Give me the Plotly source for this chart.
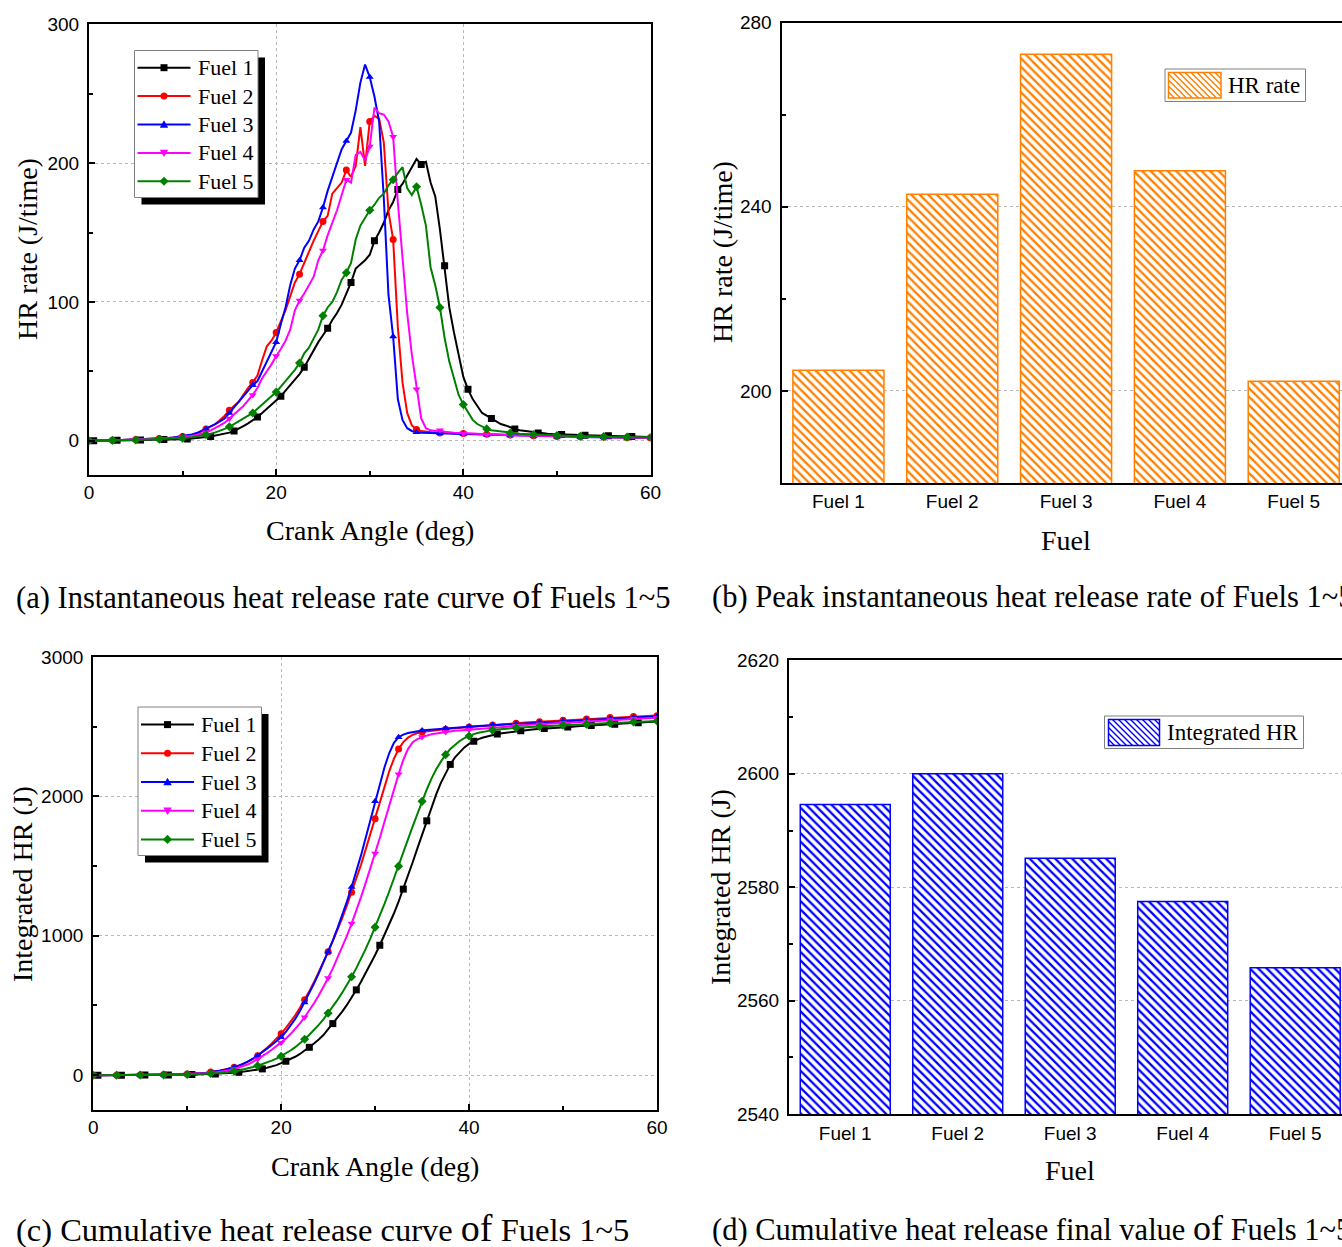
import plotly.graph_objects as go

# ---------------------------------------------------------------- data
CRANK_ANGLE = [
    0, 0.5, 1, 1.5, 2, 2.5, 3, 3.5, 4, 4.5,
    5, 5.5, 6, 6.5, 7, 7.5, 8, 8.5, 9, 9.5,
    10, 10.5, 11, 11.5, 12, 12.5, 13, 13.5, 14, 14.5,
    15, 15.5, 16, 16.5, 17, 17.5, 18, 18.5, 19, 19.5,
    20, 20.5, 21, 21.5, 22, 22.5, 23, 23.5, 24, 24.5,
    25, 25.5, 26, 26.5, 27, 27.5, 28, 28.5, 29, 29.5,
    30, 30.5, 31, 31.5, 32, 32.5, 33, 33.5, 34, 34.5,
    35, 35.5, 36, 36.5, 37, 37.5, 38, 38.5, 39, 39.5,
    40, 40.5, 41, 41.5, 42, 42.5, 43, 43.5, 44, 44.5,
    45, 45.5, 46, 46.5, 47, 47.5, 48, 48.5, 49, 49.5,
    50, 50.5, 51, 51.5, 52, 52.5, 53, 53.5, 54, 54.5,
    55, 55.5, 56, 56.5, 57, 57.5, 58, 58.5, 59, 59.5,
    60,
]

# instantaneous heat release rate (J/time)
HR_FUEL1 = [
    0, 0, 0, 0, 0.2, 0.2, 0.3, 0.3, 0.3, 0.4,
    0.4, 0.5, 0.5, 0.6, 0.6, 0.7, 0.8, 0.8, 0.9, 1.0,
    1.1, 1.3, 1.5, 1.8, 2.2, 2.6, 3.1, 3.7, 4.3, 5.0,
    5.8, 7.0, 8.5, 10.5, 12.5, 14.5, 17, 20, 23, 26,
    29, 32, 36, 40, 44, 48, 53, 59, 66, 71,
    76, 81, 87, 92, 98, 106, 114, 124, 127, 130,
    134, 144, 150, 157, 166, 172, 181, 185, 191, 197,
    203, 199, 201, 186, 176, 152, 126, 96, 78, 62,
    46, 37, 30, 25, 20, 18, 16, 14, 12, 11,
    9.5, 8.5, 7.5, 7, 6.5, 6, 5.5, 5.2, 5.0, 4.8,
    4.6, 4.5, 4.4, 4.3, 4.2, 4.1, 4.0, 3.9, 3.8, 3.7,
    3.6, 3.5, 3.4, 3.3, 3.2, 3.1, 3.0, 2.9, 2.8, 2.7,
    2.6,
]
HR_FUEL2 = [
    0, 0, 0, 0, 0.2, 0.3, 0.4, 0.5, 0.6, 0.7,
    0.8, 0.9, 1.0, 1.1, 1.3, 1.5, 1.7, 2.0, 2.3, 2.7,
    3.1, 3.6, 4.3, 5.2, 6.5, 8.5, 10, 12, 15, 18,
    22, 25, 28, 33, 38, 42, 47, 58, 68, 72,
    78, 86, 94, 104, 114, 120, 128, 137, 144, 151,
    158, 162, 178, 182, 186, 195, 190, 198, 226, 198,
    230, 234, 232, 215, 165, 145, 82, 42, 20, 11,
    8, 7, 6.5, 6, 5.8, 5.6, 5.5, 5.4, 5.3, 5.2,
    5.1, 5.0, 4.9, 4.8, 4.7, 4.6, 4.5, 4.4, 4.3, 4.2,
    4.1, 4.0, 3.9, 3.8, 3.7, 3.6, 3.5, 3.4, 3.3, 3.2,
    3.1, 3.0, 3.0, 2.9, 2.9, 2.8, 2.8, 2.7, 2.7, 2.6,
    2.6, 2.5, 2.5, 2.4, 2.4, 2.3, 2.3, 2.2, 2.2, 2.1,
    2.1,
]
HR_FUEL3 = [
    0, 0, 0, 0, 0.2, 0.3, 0.4, 0.5, 0.6, 0.7,
    0.8, 0.9, 1.0, 1.1, 1.3, 1.5, 1.7, 2.0, 2.4, 2.8,
    3.2, 3.8, 4.5, 5.5, 7, 8.5, 10, 12, 14, 16,
    20, 24, 28, 32, 36, 40, 43, 50, 57, 64,
    71, 84, 96, 112, 124, 130, 139, 144, 152, 158,
    168, 180, 190, 200, 210, 216, 222, 238, 258, 271,
    262, 248, 230, 175, 105, 75, 30, 15, 9, 7,
    6, 5.8, 5.6, 5.5, 5.4, 5.3, 5.2, 5.1, 5.0, 4.9,
    4.8, 4.7, 4.6, 4.5, 4.4, 4.3, 4.2, 4.1, 4.0, 3.9,
    3.8, 3.7, 3.6, 3.5, 3.4, 3.3, 3.2, 3.1, 3.0, 3.0,
    2.9, 2.9, 2.8, 2.8, 2.7, 2.7, 2.6, 2.6, 2.5, 2.5,
    2.4, 2.4, 2.3, 2.3, 2.3, 2.2, 2.2, 2.2, 2.1, 2.1,
    2.1,
]
HR_FUEL4 = [
    0, 0, 0, 0, 0.1, 0.2, 0.3, 0.4, 0.5, 0.6,
    0.7, 0.8, 0.9, 1.0, 1.1, 1.3, 1.5, 1.7, 2.0, 2.3,
    2.6, 3.0, 3.5, 4.2, 5.0, 6.0, 7.5, 9, 11, 13,
    16, 19, 22, 25, 29, 33, 38, 45, 50, 55,
    61, 66, 72, 80, 94, 101, 106, 112, 118, 130,
    137, 148, 157, 166, 177, 188, 186, 206, 208, 202,
    212, 240, 236, 235, 230, 219, 172, 135, 92, 62,
    37, 16, 9, 7.5, 7, 7.5, 6.5, 6, 5.8, 5.6,
    5.4, 5.2, 5.0, 4.8, 4.6, 4.4, 4.3, 4.2, 4.1, 4.0,
    3.9, 3.8, 3.7, 3.6, 3.5, 3.4, 3.3, 3.2, 3.1, 3.0,
    3.0, 2.9, 2.9, 2.8, 2.8, 2.7, 2.7, 2.6, 2.6, 2.5,
    2.5, 2.4, 2.4, 2.3, 2.3, 2.2, 2.2, 2.1, 2.1, 2.0,
    2.0,
]
HR_FUEL5 = [
    0, 0, 0, 0, 0.1, 0.2, 0.2, 0.3, 0.4, 0.5,
    0.5, 0.6, 0.7, 0.8, 0.9, 1.0, 1.1, 1.2, 1.4, 1.6,
    1.8, 2.1, 2.5, 3.0, 3.6, 4.3, 5.0, 6.0, 7.0, 8.5,
    10, 12, 14, 16, 18, 20, 23, 26, 29, 32,
    35, 39, 43, 47, 51, 56, 63, 67, 74, 80,
    90, 96, 100, 107, 116, 121, 128, 145, 155, 161,
    166, 170, 175, 178, 184, 188, 193, 197, 182, 177,
    183, 170, 155, 125, 112, 96, 74, 57, 44, 33,
    26, 20, 15, 12, 10, 8.5, 7.5, 7, 6.5, 6,
    5.5, 5.2, 5.0, 4.8, 4.6, 4.4, 4.2, 4.0, 3.9, 3.8,
    3.7, 3.6, 3.5, 3.4, 3.3, 3.2, 3.1, 3.0, 3.0, 2.9,
    2.9, 2.8, 2.8, 2.7, 2.7, 2.6, 2.6, 2.5, 2.5, 2.4,
    2.4,
]

# cumulative (integrated) heat release (J)
CUM_FUEL1 = [
    0, 0, 0, 0, 0, 0, 0, 0, 1, 1,
    1, 1, 1, 2, 2, 2, 2, 3, 3, 3,
    4, 4, 5, 6, 7, 8, 9, 11, 13, 15,
    17, 20, 24, 28, 33, 39, 45, 53, 62, 72,
    86, 100, 115, 132, 152, 175, 200, 227, 256, 288,
    330, 370, 412, 456, 504, 556, 612, 670, 732, 796,
    862, 932, 1004, 1080, 1160, 1245, 1335, 1430, 1528, 1627,
    1727, 1825, 1922, 2015, 2098, 2170, 2230, 2280, 2320, 2352,
    2377, 2396, 2411, 2423, 2433, 2441, 2448, 2454, 2459, 2464,
    2468, 2472, 2476, 2479, 2482, 2485, 2488, 2490, 2492, 2494,
    2497, 2499, 2501, 2503, 2505, 2507, 2509, 2511, 2513, 2515,
    2517, 2519, 2521, 2523, 2525, 2527, 2529, 2531, 2533, 2535,
    2537,
]
CUM_FUEL2 = [
    0, 0, 0, 0, 0, 0, 1, 1, 1, 1,
    2, 2, 2, 3, 3, 4, 4, 5, 6, 7,
    8, 10, 12, 15, 18, 22, 27, 33, 40, 48,
    57, 68, 81, 97, 117, 140, 167, 196, 228, 262,
    298, 338, 382, 430, 484, 541, 603, 668, 737, 810,
    885, 962, 1042, 1127, 1218, 1312, 1410, 1510, 1620, 1730,
    1840, 1955, 2072, 2180, 2270, 2340, 2390, 2422, 2442, 2455,
    2462, 2467, 2471, 2475, 2479, 2483, 2487, 2490, 2493, 2496,
    2499, 2502, 2505, 2508, 2510, 2513, 2515, 2518, 2520, 2523,
    2525, 2527, 2530, 2532, 2534, 2536, 2538, 2540, 2542, 2544,
    2546, 2548, 2550, 2552, 2554, 2556, 2558, 2560, 2562, 2564,
    2566, 2567, 2569, 2570, 2572, 2573, 2575, 2576, 2578, 2579,
    2580,
]
CUM_FUEL3 = [
    0, 0, 0, 0, 0, 0, 1, 1, 1, 1,
    2, 2, 2, 3, 3, 3, 4, 4, 5, 6,
    7, 9, 11, 14, 17, 21, 26, 32, 39, 47,
    57, 69, 83, 99, 118, 140, 164, 190, 217, 244,
    272, 310, 354, 404, 460, 522, 588, 657, 730, 806,
    885, 968, 1055, 1147, 1245, 1350, 1460, 1577, 1703, 1835,
    1965, 2090, 2210, 2310, 2385, 2425, 2444, 2455, 2463, 2469,
    2474, 2477, 2480, 2482, 2484, 2487, 2490, 2493, 2496, 2499,
    2501, 2503, 2505, 2507, 2509, 2511, 2513, 2515, 2517, 2519,
    2521, 2523, 2525, 2527, 2529, 2531, 2533, 2535, 2537, 2539,
    2541, 2543, 2545, 2547, 2549, 2550, 2552, 2554, 2556, 2558,
    2560, 2561, 2563, 2564, 2566, 2567, 2569, 2570, 2572, 2573,
    2575,
]
CUM_FUEL4 = [
    0, 0, 0, 0, 0, 0, 0, 1, 1, 1,
    1, 2, 2, 2, 3, 3, 3, 4, 4, 5,
    6, 7, 9, 11, 13, 16, 20, 24, 29, 35,
    44, 54, 65, 78, 95, 114, 135, 158, 182, 207,
    232, 262, 295, 332, 372, 416, 464, 516, 572, 632,
    697, 766, 840, 918, 1000, 1088, 1180, 1278, 1380, 1484,
    1590, 1702, 1818, 1935, 2050, 2160, 2262, 2340, 2390, 2412,
    2426, 2438, 2446, 2452, 2458, 2463, 2467, 2471, 2474, 2477,
    2480, 2483, 2486, 2489, 2492, 2495, 2497, 2500, 2502, 2505,
    2507, 2509, 2512, 2514, 2516, 2518, 2520, 2522, 2524, 2526,
    2528, 2530, 2532, 2534, 2536, 2538, 2540, 2542, 2544, 2546,
    2548, 2550, 2551, 2553, 2555, 2557, 2558, 2560, 2562, 2564,
    2565,
]
CUM_FUEL5 = [
    0, 0, 0, 0, 0, 0, 0, 0, 0, 1,
    1, 1, 1, 1, 2, 2, 2, 3, 3, 4,
    5, 6, 7, 8, 10, 12, 14, 16, 19, 22,
    28, 34, 41, 49, 58, 68, 79, 91, 104, 118,
    136, 155, 177, 201, 228, 258, 290, 324, 361, 400,
    445, 492, 540, 592, 647, 706, 768, 835, 906, 982,
    1062, 1145, 1230, 1318, 1408, 1500, 1595, 1692, 1785, 1875,
    1965, 2050, 2128, 2195, 2250, 2300, 2340, 2372, 2398, 2418,
    2434, 2447, 2457, 2465, 2471, 2476, 2480, 2484, 2487, 2490,
    2493, 2495, 2497, 2499, 2501, 2503, 2505, 2507, 2508, 2510,
    2511, 2513, 2514, 2516, 2517, 2519, 2520, 2522, 2523, 2525,
    2526, 2528, 2529, 2531, 2532, 2534, 2535, 2537, 2538, 2540,
    2541,
]

FUELS = ["Fuel 1", "Fuel 2", "Fuel 3", "Fuel 4", "Fuel 5"]
PEAK_HR_RATE = [204.5, 242.7, 273.1, 247.8, 202.1]
FINAL_INTEGRATED_HR = [2594.6, 2600.0, 2585.1, 2577.5, 2565.8]

HR_RATE = [HR_FUEL1, HR_FUEL2, HR_FUEL3, HR_FUEL4, HR_FUEL5]
CUMULATIVE = [CUM_FUEL1, CUM_FUEL2, CUM_FUEL3, CUM_FUEL4, CUM_FUEL5]

# ---------------------------------------------------------------- styling
W, H = 1342, 1247
COLORS = ["#000000", "#FF0000", "#0000FF", "#FF00FF", "#008000"]
SYMBOLS = ["square", "circle", "triangle-up", "triangle-down", "diamond"]
MARK_OFFSET = [1, 0, 0, 0, 0]       # marker every 5th sample (2.5 deg)
ORANGE = "#FF8000"
BLUE = "#0000FF"
SERIF = "Liberation Serif, Times New Roman, serif"
SANS = "Liberation Sans, Arial, sans-serif"


def px_x(x):
    return x / W


def px_y(y):
    return 1 - y / H


def dom_x(left, right):
    return [px_x(left), px_x(right)]


def dom_y(top, bottom):
    return [px_y(bottom), px_y(top)]


fig = go.Figure()

# (a) heat release rate curves, (c) cumulative curves
for series, xa, ya in [(HR_RATE, "x", "y"), (CUMULATIVE, "x3", "y3")]:
    for k in range(5):
        fig.add_trace(go.Scatter(
            x=CRANK_ANGLE, y=series[k], mode="lines",
            line=dict(color=COLORS[k], width=2),
            xaxis=xa, yaxis=ya, showlegend=False, hoverinfo="skip"))
        off = MARK_OFFSET[k]
        fig.add_trace(go.Scatter(
            x=CRANK_ANGLE[off::5], y=series[k][off::5], mode="markers",
            marker=dict(symbol=SYMBOLS[k], color=COLORS[k], size=7),
            xaxis=xa, yaxis=ya, showlegend=False, hoverinfo="skip"))

# (b) peak HR rate bars
fig.add_trace(go.Bar(
    x=FUELS, y=PEAK_HR_RATE, width=0.8, xaxis="x2", yaxis="y2",
    marker=dict(color="white", line=dict(color=ORANGE, width=1.5),
                pattern=dict(shape="\\", fgcolor=ORANGE, bgcolor="white",
                             size=6, solidity=0.38)),
    showlegend=False))

# (d) final integrated HR bars
fig.add_trace(go.Bar(
    x=FUELS, y=FINAL_INTEGRATED_HR, width=0.8, xaxis="x4", yaxis="y4",
    marker=dict(color="white", line=dict(color=BLUE, width=1.5),
                pattern=dict(shape="\\", fgcolor=BLUE, bgcolor="white",
                             size=6, solidity=0.38)),
    showlegend=False))

tickfont = dict(family=SANS, size=19, color="black")
grid = dict(showgrid=True, gridcolor="#b8b8b8", gridwidth=1, griddash="3px,3px")
line = dict(showline=True, linecolor="black", linewidth=2, zeroline=False,
            automargin=False)
tk = dict(ticks="inside", ticklen=6, tickwidth=1.5, tickcolor="black", tickfont=tickfont)


def minor(d):
    return dict(ticks="inside", ticklen=4, tickwidth=1.5, tickcolor="black", dtick=d)


fig.update_layout(
    template="none",
    width=W, height=H, margin=dict(l=0, r=0, t=0, b=0, pad=0, autoexpand=False),
    paper_bgcolor="white", plot_bgcolor="white", showlegend=False,
    xaxis=dict(domain=dom_x(89, 650.5), range=[0, 60], tick0=0, dtick=20,
               minor=minor(10), mirror=True, anchor="y", ticklabelstandoff=-1,
               **tk, **grid, **line),
    yaxis=dict(domain=dom_y(24.3, 475.4), range=[-25, 300], tick0=0, dtick=100,
               minor=minor(50), mirror=True, anchor="x", ticklabelstandoff=4,
               **tk, **grid, **line),
    xaxis2=dict(domain=dom_x(781.5, 1342), range=[-0.5, 4.424], type="category",
                ticks="", tickfont=tickfont, showgrid=False, mirror=True,
                anchor="y2", ticklabelstandoff=0, **line),
    yaxis2=dict(domain=dom_y(22.5, 483), range=[180, 280], tick0=200, dtick=40,
                minor=minor(20), mirror=False, anchor="x2", ticklabelstandoff=4,
                **tk, **grid, **line),
    xaxis3=dict(domain=dom_x(93.2, 657), range=[0, 60], tick0=0, dtick=20,
                minor=minor(10), mirror=True, anchor="y3", ticklabelstandoff=-1,
                **tk, **grid, **line),
    yaxis3=dict(domain=dom_y(657.1, 1110), range=[-250, 3000], tick0=0, dtick=1000,
                minor=minor(500), mirror=True, anchor="x3", ticklabelstandoff=4,
                **tk, **grid, **line),
    xaxis4=dict(domain=dom_x(789, 1342), range=[-0.5, 4.416], type="category",
                ticks="", tickfont=tickfont, showgrid=False, mirror=True,
                anchor="y4", ticklabelstandoff=1, **line),
    yaxis4=dict(domain=dom_y(660.4, 1114), range=[2540, 2620], tick0=2540, dtick=20,
                minor=minor(10), mirror=False, anchor="x4", ticklabelstandoff=4,
                **tk, **grid, **line),
)

shapes = []
annotations = []


def text(x, y, s, size, angle=0, anchor="center", family=SERIF):
    annotations.append(dict(
        x=px_x(x), y=px_y(y), xref="paper", yref="paper", text=s, showarrow=False,
        textangle=angle, xanchor=anchor, yanchor="middle", borderpad=0,
        font=dict(family=family, size=size, color="black")))


def rect(x0, y0, x1, y1, fill, color, width):
    shapes.append(dict(type="rect", xref="paper", yref="paper", layer="above",
                       x0=px_x(x0), x1=px_x(x1), y0=px_y(y1), y1=px_y(y0),
                       fillcolor=fill, line=dict(color=color, width=width)))


def seg(x0, y0, x1, y1, color, width):
    shapes.append(dict(type="line", xref="paper", yref="paper", layer="above",
                       x0=px_x(x0), x1=px_x(x1), y0=px_y(y0), y1=px_y(y1),
                       line=dict(color=color, width=width)))


def symbol(sym, cx, cy, color, s=7):
    h = s / 2
    if sym == "circle":
        shapes.append(dict(type="circle", xref="paper", yref="paper", layer="above",
                           x0=px_x(cx - h), x1=px_x(cx + h), y0=px_y(cy + h), y1=px_y(cy - h),
                           fillcolor=color, line=dict(width=0)))
        return
    if sym == "square":
        pts = [(cx - h, cy - h), (cx + h, cy - h), (cx + h, cy + h), (cx - h, cy + h)]
    elif sym == "triangle-up":
        pts = [(cx, cy - 1.2 * h), (cx + 1.2 * h, cy + 0.9 * h), (cx - 1.2 * h, cy + 0.9 * h)]
    elif sym == "triangle-down":
        pts = [(cx, cy + 1.2 * h), (cx + 1.2 * h, cy - 0.9 * h), (cx - 1.2 * h, cy - 0.9 * h)]
    else:
        pts = [(cx, cy - 1.3 * h), (cx + 1.3 * h, cy), (cx, cy + 1.3 * h), (cx - 1.3 * h, cy)]
    path = "M " + " L ".join(f"{px_x(a):.6f},{px_y(b):.6f}" for a, b in pts) + " Z"
    shapes.append(dict(type="path", xref="paper", yref="paper", layer="above",
                       path=path, fillcolor=color, line=dict(width=0)))


def curve_legend(box, y_first, pitch, line_x, text_x):
    x0, y0, x1, y1 = box
    rect(x0 + 7, y0 + 7, x1 + 7, y1 + 7, "black", "black", 0)
    rect(x0, y0, x1, y1, "white", "#808080", 1)
    for k in range(5):
        yy = y_first + k * pitch
        seg(line_x[0], yy, line_x[1], yy, COLORS[k], 2)
        symbol(SYMBOLS[k], (line_x[0] + line_x[1]) / 2, yy, COLORS[k])
        text(text_x, yy, FUELS[k], 22, anchor="left")


def bar_legend(box, swatch, label, color):
    x0, y0, x1, y1 = box
    rect(x0, y0, x1, y1, "white", "#808080", 1)
    sx0, sy0, sx1, sy1 = swatch
    step = 6.0
    c = sx0 - sy1
    while c < sx1 - sy0:
        xa = max(sx0, sy0 + c)
        xb = min(sx1, sy1 + c)
        if xb > xa:
            seg(xa, xa - c, xb, xb - c, color, 1.4)
        c += step
    rect(sx0, sy0, sx1, sy1, "rgba(0,0,0,0)", color, 1.5)
    text(sx1 + 6, (y0 + y1) / 2, label, 23, anchor="left")


curve_legend((134.5, 50.5, 258, 197.5), 67.7, 28.4, (137.5, 190.5), 196.5)
curve_legend((138, 707, 261.5, 855.5), 724.6, 28.7, (141, 194), 199.5)
bar_legend((1165, 69, 1305.5, 101.5), (1168.5, 72.5, 1221, 98), "HR rate", ORANGE)
bar_legend((1104.5, 716, 1303.5, 748.5), (1108.5, 719.5, 1159.5, 745.5), "Integrated HR", BLUE)

# axis titles
text(28, 249, "HR rate (J/time)", 28, angle=-90)
text(370, 531, "Crank Angle (deg)", 28)
text(722, 252, "HR rate (J/time)", 28, angle=-90)
text(1066, 540, "Fuel", 28)
text(22, 884, "Integrated HR (J)", 28, angle=-90)
text(375, 1166, "Crank Angle (deg)", 28)
text(720, 887, "Integrated HR (J)", 28, angle=-90)
text(1070, 1170, "Fuel", 28)

# captions
OF = '<span style="font-size:36px">of</span>'
OF_C = '<span style="font-size:38px">of</span>'
text(15, 596, f"(a) Instantaneous heat release rate curve {OF} Fuels 1~5", 30.5, anchor="left")
text(711, 597, "(b) Peak instantaneous heat release rate of Fuels 1~5", 30.5, anchor="left")
text(15, 1228, f"(c) Cumulative heat release curve {OF_C} Fuels 1~5", 32.5, anchor="left")
text(711, 1228, f"(d) Cumulative heat release final value {OF} Fuels 1~5", 30.5, anchor="left")

fig.update_layout(shapes=shapes, annotations=annotations)
fig.write_html("out.html", config={"displayModeBar": False})
